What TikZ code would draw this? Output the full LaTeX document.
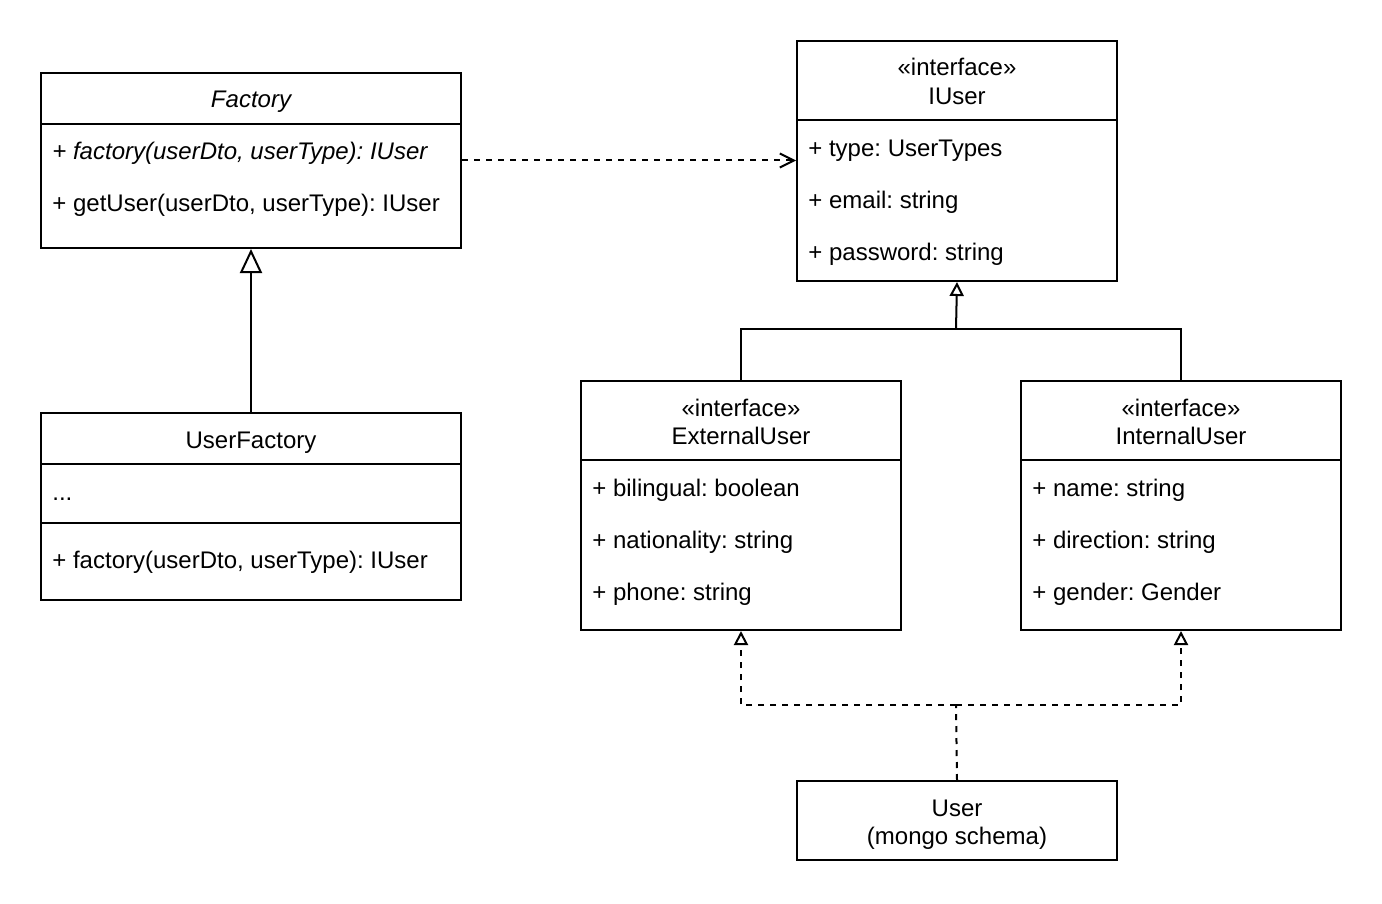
\documentclass[tikz,border=0pt]{standalone}
\usepackage{fontspec}
\setmainfont{Liberation Sans}
\usetikzlibrary{arrows.meta}
\frenchspacing
\begin{document}
\frenchspacing
\begin{tikzpicture}[x=0.5pt,y=-0.5pt,
  box/.style={draw, line width=1pt, inner sep=0pt, anchor=north west},
  sep/.style={line width=1pt},
  txt/.style={anchor=base west, inner sep=0pt, font=\fontsize{12}{14}\selectfont},
  ctxt/.style={anchor=base, inner sep=0pt, font=\fontsize{12}{14}\selectfont},
  edge/.style={line width=1pt},
  dashedge/.style={line width=1pt, dash pattern=on 3pt off 3pt},
  bigtri/.style={-{Triangle[open,length=12pt,width=11pt]}},
  smalltri/.style={-{Triangle[open,length=7pt,width=7pt]}},
  dep/.style={-{Straight Barb[length=7pt,width=7pt]}}
]
\useasboundingbox[fill=white] (1,1) rectangle (1383,905);

% Factory
\node[box, minimum width=210pt, minimum height=87.5pt] (factory) at (41,73) {};
\draw[sep] (41,125) -- (461,125);
\node[ctxt] (factoryname) at (252,109) {\itshape Factory};
\node[txt] (fm1) at (53,161) {\itshape + factory(userDto, userType): IUser};
\node[txt] (fm2) at (53,213) {+ getUser(userDto, userType): IUser};

% UserFactory
\node[box, minimum width=210pt, minimum height=93.5pt] (userfactory) at (41,413) {};
\draw[sep] (41,465) -- (461,465);
\draw[sep] (41,524) -- (461,524);
\node[ctxt] (ufname) at (252,449) {UserFactory};
\node[txt] (ufa) at (53,501) {...};
\node[txt] (ufm) at (53,569) {+ factory(userDto, userType): IUser};

% IUser
\node[box, minimum width=160pt, minimum height=120pt] (iuser) at (797,41) {};
\draw[sep] (797,121) -- (1117,121);
\node[ctxt] (iust) at (958,77) {«interface»};
\node[ctxt] (iuname) at (958,105) {IUser};
\node[txt] (iua1) at (809,157) {+ type: UserTypes};
\node[txt] (iua2) at (809,209) {+ email: string};
\node[txt] (iua3) at (809,261) {+ password: string};

% ExternalUser
\node[box, minimum width=160pt, minimum height=124.5pt] (external) at (581,381) {};
\draw[sep] (581,461) -- (901,461);
\node[ctxt] (exst) at (742,417) {«interface»};
\node[ctxt] (exname) at (742,445) {ExternalUser};
\node[txt] (exa1) at (593,497) {+ bilingual: boolean};
\node[txt] (exa2) at (593,549) {+ nationality: string};
\node[txt] (exa3) at (593,601) {+ phone: string};

% InternalUser
\node[box, minimum width=160pt, minimum height=124.5pt] (internal) at (1021,381) {};
\draw[sep] (1021,461) -- (1341,461);
\node[ctxt] (inst) at (1182,417) {«interface»};
\node[ctxt] (inname) at (1182,445) {InternalUser};
\node[txt] (ina1) at (1033,497) {+ name: string};
\node[txt] (ina2) at (1033,549) {+ direction: string};
\node[txt] (ina3) at (1033,601) {+ gender: Gender};

% User
\node[box, minimum width=160pt, minimum height=39.5pt] (user) at (797,781) {};
\node[ctxt] (usname) at (958,817) {User};
\node[ctxt] (ussub) at (958,845) {(mongo schema)};

% connectors
\draw[dashedge, dep] (factory.east) -- (iuser.west |- factory.east);
\draw[edge, bigtri] (userfactory.north) -- (factory.south);

\coordinate (j1) at (957,330);
\draw[edge, smalltri] (j1) -- (iuser.south);
\draw[edge] (external.north) |- (j1);
\draw[edge] (internal.north) |- (j1);

\coordinate (j2) at (957,706);
\draw[dashedge] (user.north) -- (j2);
\draw[dashedge, smalltri] (j2) -| (external.south);
\draw[dashedge, smalltri] (j2) -| (internal.south);
\end{tikzpicture}
\end{document}
